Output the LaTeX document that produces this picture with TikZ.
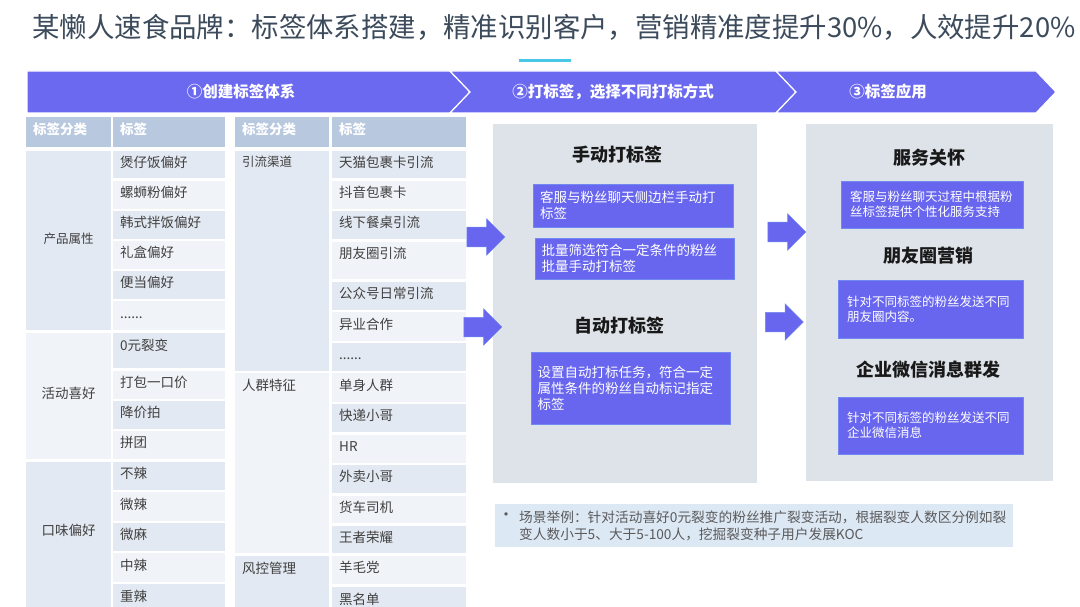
\documentclass[tikz,border=0pt]{standalone}
\usepackage{fontspec}
\setmainfont{Noto Sans CJK SC}
\usetikzlibrary{shapes.arrows}
\definecolor{band}{RGB}{108,105,241}
\definecolor{boxblue}{RGB}{104,102,238}
\definecolor{boxedge}{RGB}{112,136,240}
\definecolor{panelgray}{RGB}{221,227,232}
\definecolor{hdr}{RGB}{184,200,223}
\definecolor{celldk}{RGB}{227,233,242}
\definecolor{celllt}{RGB}{240,244,249}
\definecolor{notebg}{RGB}{221,232,245}
\definecolor{txt}{RGB}{64,64,64}
\definecolor{notetxt}{RGB}{90,90,90}
\definecolor{titlec}{RGB}{60,75,92}
\definecolor{cyanline}{RGB}{72,200,230}

\begin{document}
\begin{tikzpicture}[x=1pt,y=-1pt,
	cell/.style={anchor=north west,inner xsep=7pt,inner ysep=0pt,text height=10pt,text depth=5pt,minimum height=28pt,align=left,font=\fontsize{13.5}{16}\selectfont,text=txt},
	dk/.style={cell,fill=celldk},
	lt/.style={cell,fill=celllt},
	hd/.style={cell,fill=hdr,text=white,minimum height=30pt,font=\fontsize{13.5}{16}\selectfont\bfseries},
	ca/.style={text width=71pt,align=center},
	cb/.style={text width=98pt},
	cc/.style={text width=80pt},
	cd/.style={text width=120pt},
	small/.style={font=\fontsize{12.5}{15}\selectfont},
	stage/.style={fill=band,draw=white,line width=1.2pt},
	stagetxt/.style={text=white,font=\fontsize{15.5}{18}\selectfont\bfseries},
	head/.style={text=black!90,font=\fontsize{18}{20}\selectfont\bfseries},
	tagbox/.style={fill=boxblue,draw=boxedge,line width=0.8pt,text=white,align=left,inner sep=0pt},
	bigarrow/.style={single arrow,fill=boxblue,draw=boxedge,line width=0.5pt,inner sep=0pt,text height=19pt,text depth=0pt,minimum height=38pt,single arrow head extend=8.5pt},
	] % Tabellen links, Kaesten rechts
	\useasboundingbox (0,0) rectangle (1080,607);
	\clip (0,0) rectangle (1080,607);
	\fill[white] (0,0) rectangle (1080,607);
	\node[text=titlec,font=\fontsize{27.4}{30}\selectfont] (N0) at (554,27) {某懒人速食品牌：标签体系搭建，精准识别客户，营销精准度提升30\%，人效提升20\%};
	\draw[cyanline,line width=3pt] (519,61) -- (571,61);

	\draw[stage] (27,71) -- (450,71) -- (470,92) -- (450,113) -- (27,113) -- cycle;
	\draw[stage] (450,71) -- (776,71) -- (796,92) -- (776,113) -- (450,113) -- (470,92) -- cycle;
	\draw[stage] (776,71) -- (1036,71) -- (1056,92) -- (1036,113) -- (776,113) -- (796,92) -- cycle;
	\node[stagetxt] (S1) at (241,92) {①创建标签体系};
	\node[stagetxt] (S2) at (613,92) {②打标签，选择不同打标方式};
	\node[stagetxt] (S3) at (888,92) {③标签应用};

	\node[hd,text width=71pt] (H1) at (26,117) {标签分类};
	\node[hd,cb] (H2) at (113,117) {标签};
	\node[hd,cc] (H3) at (235,117) {标签分类};
	\node[hd,cd] (H4) at (332,117) {标签};

	\node[dk,ca,small,minimum height=179pt] (A1) at (26,151) {产品属性};
	\node[lt,ca,minimum height=126pt] (A2) at (26,333) {活动喜好};
	\node[dk,ca,minimum height=152pt,text depth=16pt] (A3) at (26,462) {口味偏好};
	\node[dk,cb,minimum height=27pt] (L1) at (113,151) {煲仔饭偏好};
	\node[lt,cb] (L2) at (113,181) {螺蛳粉偏好};
	\node[dk,cb] (L3) at (113,211) {韩式拌饭偏好};
	\node[lt,cb] (L4) at (113,241) {礼盒偏好};
	\node[dk,cb] (L5) at (113,271) {便当偏好};
	\node[lt,cb,minimum height=29pt] (L6) at (113,301) {......};
	\node[dk,cb,minimum height=35pt,text depth=11pt] (L7) at (113,333) {0元裂变};
	\node[lt,cb] (L8) at (113,371) {打包一口价};
	\node[dk,cb] (L9) at (113,401) {降价拍};
	\node[lt,cb] (L10) at (113,431) {拼团};
	\node[dk,cb] (L11) at (113,462) {不辣};
	\node[lt,cb,minimum height=29pt] (L12) at (113,492) {微辣};
	\node[dk,cb] (L13) at (113,523) {微麻};
	\node[lt,cb,minimum height=29pt] (L14) at (113,553) {中辣};
	\node[dk,cb,minimum height=30pt] (L15) at (113,584) {重辣};

	\node[dk,cc,small,minimum height=220pt,text depth=200pt] (K1) at (235,151) {引流渠道};
	\node[lt,cc,minimum height=180pt,text depth=156pt] (K2) at (235,373) {人群特征};
	\node[dk,cc,minimum height=61pt,text depth=37pt] (K3) at (235,556) {风控管理};
	\node[dk,cd,minimum height=27pt] (R1) at (332,151) {天猫包裹卡引流};
	\node[lt,cd] (R2) at (332,181) {抖音包裹卡};
	\node[dk,cd] (R3) at (332,211) {线下餐桌引流};
	\node[lt,cd,minimum height=37pt,text depth=15pt] (R4) at (332,242) {朋友圈引流};
	\node[dk,cd] (R5) at (332,282) {公众号日常引流};
	\node[lt,cd,minimum height=29pt] (R6) at (332,312) {异业合作};
	\node[dk,cd] (R7) at (332,343) {......};
	\node[lt,cd,minimum height=29pt] (R8) at (332,373) {单身人群};
	\node[dk,cd] (R9) at (332,404) {快递小哥};
	\node[lt,cd] (R10) at (332,435) {HR};
	\node[dk,cd] (R11) at (332,465) {外卖小哥};
	\node[lt,cd,minimum height=27pt] (R12) at (332,496) {货车司机};
	\node[dk,cd,minimum height=27pt] (R13) at (332,526) {王者荣耀};
	\node[lt,cd] (R14) at (332,556) {羊毛党};
	\node[dk,cd,minimum height=30pt] (R15) at (332,587) {黑名单};

	\fill[panelgray] (493,124) rectangle (757,483);
	\fill[panelgray] (806,124) rectangle (1053,481);
	\node[bigarrow] (P1) at (481,237) {};
	\node[bigarrow] (P2) at (478,327) {};
	\node[bigarrow] (P3) at (782,232) {};
	\node[bigarrow] (P4) at (779.5,322) {};

	\node[head] (T1) at (617,155) {手动打标签};
	\node[tagbox,minimum width=200pt,minimum height=43pt,text width=186pt,font=\fontsize{13.5}{16}\selectfont] (B1) at (633,205.5) {客服与粉丝聊天侧边栏手动打\\标签};
	\node[tagbox,minimum width=199pt,minimum height=41pt,text width=186pt,font=\fontsize{13.5}{16}\selectfont] (B2) at (634.5,258.5) {批量筛选符合一定条件的粉丝\\批量手动打标签};
	\node[head] (T2) at (619,326) {自动打标签};
	\node[tagbox,minimum width=199pt,minimum height=72pt,text width=186pt,font=\fontsize{13.5}{16}\selectfont] (B3) at (630.5,388) {设置自动打标任务，符合一定\\属性条件的粉丝自动标记指定\\标签};

	\node[head] (T3) at (929,158) {服务关怀};
	\node[tagbox,minimum width=182pt,minimum height=47pt,text width=164pt,font=\fontsize{12.5}{15}\selectfont] (C1) at (932,204.5) {客服与粉丝聊天过程中根据粉\\丝标签提供个性化服务支持};
	\node[head] (T4) at (928,256) {朋友圈营销};
	\node[tagbox,minimum width=185pt,minimum height=58pt,text width=167pt,font=\fontsize{12.5}{15}\selectfont] (C2) at (930.5,309) {针对不同标签的粉丝发送不同\\朋友圈内容。};
	\node[head] (T5) at (928,370) {企业微信消息群发};
	\node[tagbox,minimum width=185pt,minimum height=57pt,text width=167pt,font=\fontsize{12.5}{15}\selectfont] (C3) at (930.5,425.5) {针对不同标签的粉丝发送不同\\企业微信消息};

	\fill[notebg] (495,504) rectangle (1013,547);
	\node[text=notetxt,font=\fontsize{16}{17}\selectfont,inner sep=0pt] (D0) at (506,517) {•};
	\node[anchor=west,align=left,inner sep=0pt,text=notetxt,font=\fontsize{13.7}{17}\selectfont] (D1) at (519,525.5) {场景举例：针对活动喜好0元裂变的粉丝推广裂变活动，根据裂变人数区分例如裂\\变人数小于5、大于5-100人，挖掘裂变种子用户发展KOC};
\end{tikzpicture}
\end{document}
